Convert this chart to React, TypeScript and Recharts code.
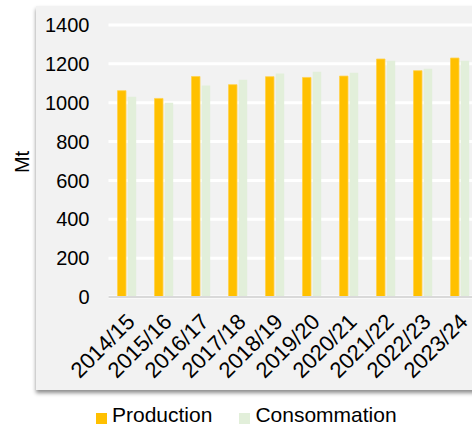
import { BarChart, Bar, XAxis, YAxis, CartesianGrid, Legend } from 'recharts';

const seasons = ['2014/15', '2015/16', '2016/17', '2017/18', '2018/19', '2019/20', '2020/21', '2021/22', '2022/23', '2023/24'];
const production = [1062, 1022, 1135, 1093, 1134, 1130, 1137, 1225, 1165, 1230];
const consommation = [1031, 1000, 1089, 1118, 1151, 1160, 1154, 1216, 1175, 1216];
const yTicks = [0, 200, 400, 600, 800, 1000, 1200, 1400];

const data = seasons.map((season, i) => ({
  season,
  production: production[i],
  consommation: consommation[i],
}));

const FONT = '"Liberation Sans", Arial, sans-serif';

const legendItems = [
  { label: 'Production', color: '#ffc000' },
  { label: 'Consommation', color: '#e2efda' },
];

function ChartLegend() {
  return (
    <div style={{ display: 'flex', height: 22, fontFamily: FONT, fontSize: 21, color: '#000' }}>
      {legendItems.map((item, i) => (
        <div key={item.label} style={{ display: 'flex', alignItems: 'center', marginLeft: i ? 27 : 0 }}>
          <span style={{ width: 11, height: 11, background: item.color, marginRight: 5, marginTop: 6 }} />
          <span>{item.label}</span>
        </div>
      ))}
    </div>
  );
}

export default function App() {
  return (
    <div style={{ position: 'fixed', left: 0, top: 0, width: 472, height: 425, overflow: 'hidden', background: '#fff' }}>
      <div
        style={{
          position: 'absolute',
          left: 36,
          top: 6,
          width: 470,
          height: 384,
          background: '#f2f2f2',
          boxShadow: '0 3px 4px rgba(0,0,0,0.45)',
        }}
      />
      <div style={{ position: 'absolute', left: 0, top: 0 }}>
        <BarChart
          width={500}
          height={425}
          data={data}
          margin={{ top: 25, right: 21.5, left: 0, bottom: 0 }}
          barSize={8.5}
          barGap={1.7}
        >
          <CartesianGrid vertical={false} stroke="#ffffff" strokeWidth={3} />
          <XAxis
            dataKey="season"
            interval={0}
            height={106}
            angle={-45}
            textAnchor="end"
            tickLine={false}
            axisLine={{ stroke: '#d9d9d9', strokeWidth: 2 }}
            tick={{ fontSize: 22, fill: '#000', fontFamily: FONT, dx: -2 }}
            tickMargin={9}
          />
          <YAxis
            width={108.5}
            domain={[0, 1400]}
            ticks={yTicks}
            interval={0}
            axisLine={false}
            tickLine={false}
            tickSize={6}
            tickMargin={13}
            tick={{ fontSize: 20, fill: '#000', fontFamily: FONT }}
            label={{
              content: () => (
                <text
                  x={22}
                  y={162}
                  transform="rotate(-90 22 162)"
                  textAnchor="middle"
                  dominantBaseline="central"
                  fontSize={20}
                  fontFamily={FONT}
                  fill="#000"
                >
                  Mt
                </text>
              ),
            }}
          />
          <Legend content={<ChartLegend />} wrapperStyle={{ left: 96, top: 404, width: 'auto' }} />
          <Bar dataKey="production" name="Production" fill="#ffc000" stroke="#ffd24d" strokeWidth={0.8} isAnimationActive={false} />
          <Bar dataKey="consommation" name="Consommation" fill="#e2efda" isAnimationActive={false} />
        </BarChart>
      </div>
    </div>
  );
}
